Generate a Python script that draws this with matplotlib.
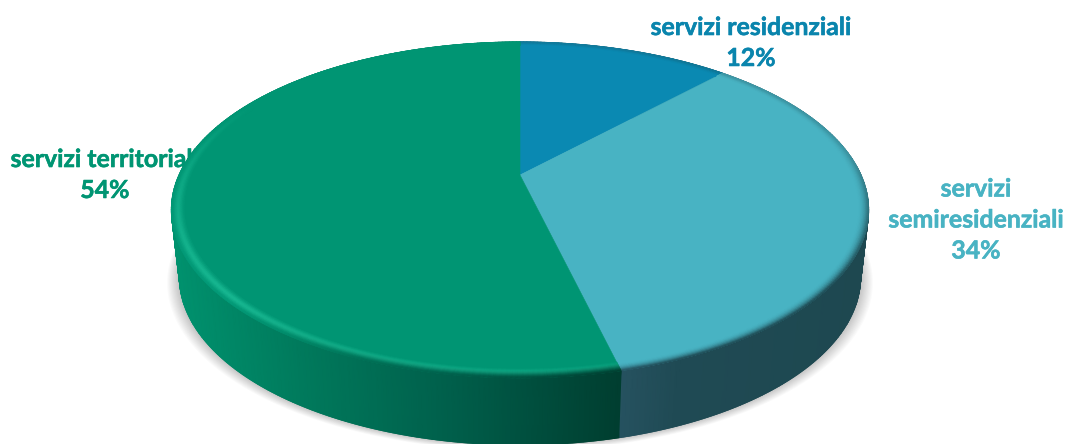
import numpy as np
import matplotlib
matplotlib.use("Agg")
import matplotlib.pyplot as plt
import matplotlib.patheffects as pe
from matplotlib.collections import LineCollection

categories = ["servizi residenziali", "servizi\nsemiresidenziali", "servizi territoriali"]
values = [12.0, 34.2, 53.8]
top_colors = [(10, 137, 178), (72, 179, 195), (0, 149, 115)]
text_colors = ["#0a85ad", "#48b3c3", "#009573"]
label_pos = [(751, 43), (976, 220), (105, 175)]

# pie geometry in pixels, the tilt is a perspective projection of a circle
cx, cy = 520, 175
R, a, k = 341, 160.7, 0.208
depth, shrink = 67, 0.977

# side wall shading, by screen x
green_x = [170, 300, 450, 620]
green_side = [(0, 146, 110), (0, 122, 92), (0, 95, 75), (0, 62, 48)]
teal_x = [620, 680, 870]
teal_side = [(38, 82, 96), (31, 74, 84), (30, 72, 80)]


def project(r, t):
    u, v = r * np.sin(t), r * np.cos(t)
    d = 1 + k * v
    return cx + R * u / d, cy - a * v / d


def project_bottom(t):
    x, y = project(1, t)
    return cx + (x - cx) * shrink, y + depth


def side_color(i, x):
    if i == 2:
        xs, stops = green_x, green_side
    else:
        xs, stops = teal_x, teal_side
    return np.array([np.interp(x, xs, [s[c] for s in stops]) for c in range(3)])


def rim_color(i, r, t, x):
    base = np.array(top_colors[i], float)
    edge = np.clip((1 - r) / 0.028, 0, 1)
    if i == 2:
        # light band along the lower left of the bevel
        light = np.array([24, 184, 146.0])
        band = np.exp(-((r - 0.982) / 0.012) ** 2)
        s = np.clip(np.cos(t - np.radians(215)) * 1.1 - 0.1, 0, 1)
        col = base + (light - base) * band * s
        fade = np.clip(np.cos(t - np.radians(165)) * 3 - 1.4, 0, 1)
        return col + (side_color(i, x) - col) * fade * (1 - edge)
    front = np.clip(0.45 - np.cos(t) * 0.9, 0.3, 1)
    return base + (side_color(i, x) - base) * (1 - edge) ** 2 * front


fig = plt.figure(figsize=(10.72, 4.44), dpi=100)
ax = fig.add_axes([0, 0, 1, 1])

for name, val, col, (lx, ly) in zip(categories, values, text_colors, label_pos):
    txt = ax.text(lx, ly, "%s\n%.0f%%" % (name, val), color=col, family="Lato", weight="bold",
                  fontsize=17.9, ha="center", va="center", linespacing=1.42, zorder=1)
    txt.set_path_effects([pe.withStroke(linewidth=0.4, foreground=col)])

# soft shadow below the body
t_all = np.linspace(0, 2 * np.pi, 361)
bx, by = project_bottom(t_all)
for s in np.linspace(1.036, 1.002, 12):
    ax.fill(cx + (bx - cx) * s, by + (s - 1) * 162, color="black", alpha=0.018, lw=0, zorder=2)

edges = np.cumsum([0] + values) / sum(values) * 2 * np.pi
slice_angles = [np.linspace(edges[i], edges[i + 1], int(values[i] * 5) + 2) for i in range(3)]

# side wall
for i, ts in enumerate(slice_angles):
    tx, ty = project(1, ts)
    sx, sy = project_bottom(ts)
    c = np.array([side_color(i, x) for x in tx]) / 255
    ax.pcolormesh(np.vstack([tx, sx]), np.vstack([ty, sy]), np.stack([c, c]),
                  shading="gouraud", zorder=3)
    # the mesh has no antialiasing, so run a thin line down the outline
    pts = np.column_stack([sx, sy])
    segs = np.stack([pts[:-1], pts[1:]], axis=1)
    ax.add_collection(LineCollection(segs, colors=c[:-1], linewidths=0.8, zorder=3))

# top face
for i, ts in enumerate(slice_angles):
    px, py = project(1, ts)
    ax.fill(np.r_[cx, px], np.r_[cy, py], color=np.array(top_colors[i]) / 255, lw=0.4, zorder=4)

# bevel round the top face
rs = np.linspace(0.965, 1, 10)
for i, ts in enumerate(slice_angles):
    mx = np.array([project(r, ts)[0] for r in rs])
    my = np.array([project(r, ts)[1] for r in rs])
    mc = np.array([[rim_color(i, r, t, x) for t, x in zip(ts, project(1, ts)[0])] for r in rs])
    ax.pcolormesh(mx, my, np.clip(mc, 0, 255) / 255, shading="gouraud", zorder=5)

ax.set_xlim(0, 1072)
ax.set_ylim(444, 0)
ax.axis("off")

fig.savefig("out.png", dpi=100)
